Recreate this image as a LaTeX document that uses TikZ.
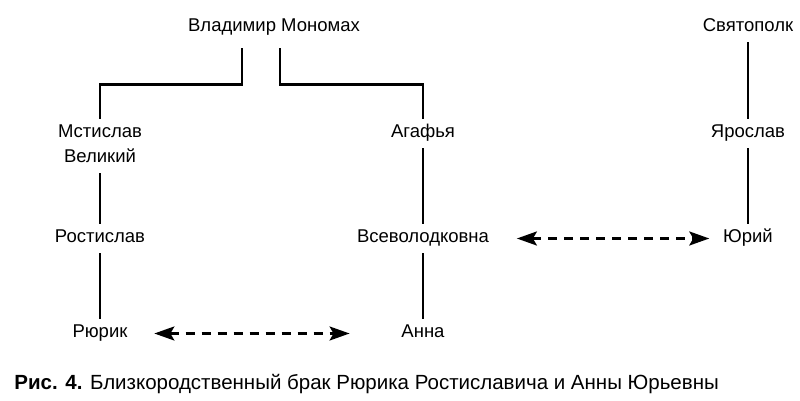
\documentclass[tikz,border=0pt]{standalone}
\usepackage{fontspec}
\setmainfont{Liberation Sans}
\usetikzlibrary{arrows.meta}

\begin{document}
\begin{tikzpicture}[x=1pt, y=1pt, line width=2.8pt,
        person/.style={font=\fontsize{18.5}{25}\selectfont, anchor=base, align=center,
            inner sep=4.5pt, text height=13.5pt, text depth=4.5pt},
        marriage/.style={{Stealth[length=20pt,width=14pt,inset=4pt]}-{Stealth[length=20pt,width=14pt,inset=4pt]},
            dash pattern=on 9pt off 7pt, line width=2.6pt}]
        \useasboundingbox (0,0) rectangle (800,401);

        \node[person] (vm) at (274,369) {Владимир Мономах};
        \node[person] (svp) at (748,369) {Святополк};
        \node[person, text height=38.5pt] (mst) at (100,238) {Мстислав\\Великий};
        \node[person] (aga) at (423,263) {Агафья};
        \node[person] (yar) at (748,263) {Ярослав};
        \node[person] (ros) at (100,158) {Ростислав};
        \node[person] (vsev) at (423,158) {Всеволодковна};
        \node[person] (yur) at (748,158) {Юрий};
        \node[person] (rur) at (100,63) {Рюрик};
        \node[person] (anna) at (423,63) {Анна};

        \node[anchor=base west, inner sep=0pt, font=\fontsize{20.5}{24}\selectfont] (cap) at (13,11)
            {\textbf{Рис. 4.} Близкородственный брак Рюрика Ростиславича и Анны Юрьевны};

        \draw (vm.south) ++(-32,-6) -- ++(0,-36) -| (mst.north);
        \draw (vm.south) ++(6,-6) -- ++(0,-36) -| (aga.north);

        \path (mst) edge (ros)
              (ros) edge (rur)
              (aga) edge (vsev)
              (vsev) edge (anna)
              (svp) edge (yar)
              (yar) edge (yur);

        \draw[marriage, shorten <=21pt, shorten >=46pt] (rur) -- (anna);
        \draw[marriage, shorten <=22pt, shorten >=8pt] (vsev) -- (yur);
    \end{tikzpicture}
\end{document}
